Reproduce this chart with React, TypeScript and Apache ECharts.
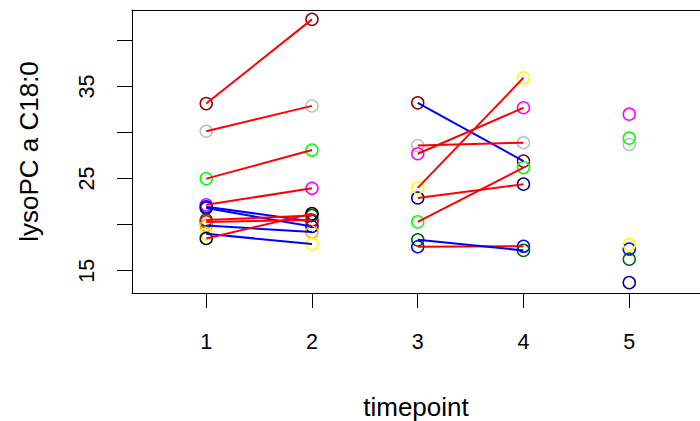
import React, { useEffect, useRef } from "react";
import * as echarts from "echarts";

// timepoints 1..5
const timepoints = [1, 2, 3, 4, 5];
const subjectColors = [
  "#8B0000", // darkred
  "#BEBEBE", // grey
  "#00FF00", // green
  "#FF00FF", // magenta
  "#0000FF", // blue
  "#00008B", // darkblue
  "#006400", // darkgreen
  "#FF0000", // red
  "#FFA500", // orange
  "#FFFF00", // yellow
  "#000000", // black
];
// values per subject at timepoints 1..5 (null = missing)
const darkredVals = [33.15, 42.3, 33.23, 26.9, null];
const greyVals = [30.15, 32.9, 28.6, 28.9, 28.7];
const greenVals = [25.0, 28.1, 20.3, 26.2, 29.4];
const magentaVals = [22.15, 23.95, 27.7, 32.7, 32.0];
const blueVals = [21.95, 20.35, 17.6, 17.65, 17.35];
const darkblueVals = [21.8, 19.8, 22.9, 24.4, 13.7];
const darkgreenVals = [20.5, 21.0, 18.35, 17.2, 16.25];
const redVals = [20.3, 20.5, null, null, null];
const orangeVals = [19.9, 19.2, null, null, null];
const yellowVals = [19.0, 17.9, 24.0, 35.95, 17.85];
const blackVals = [18.5, 21.2, null, null, null];

const subjects = [
  darkredVals, greyVals, greenVals, magentaVals, blueVals, darkblueVals,
  darkgreenVals, redVals, orangeVals, yellowVals, blackVals,
];
// pairs of timepoints connected by lines
const pairs = [[1, 2], [3, 4]];

const yTicks = [15, 20, 25, 30, 35, 40];
const yLabels = [15, 25, 35];

export default function App() {
  const ref = useRef<HTMLDivElement>(null);
  useEffect(() => {
    if (!ref.current) return;
    const chart = echarts.init(ref.current, null, { renderer: "svg" });
    const series: any[] = [];
    subjects.forEach((vals) => {
      pairs.forEach(([a, b]) => {
        const va = vals[a - 1];
        const vb = vals[b - 1];
        if (va != null && vb != null) {
          series.push({
            type: "line",
            data: [[a, va], [b, vb]],
            symbol: "none",
            silent: true,
            z: 3,
            lineStyle: { color: vb >= va ? "#FF0000" : "#0000FF", width: 2 },
          });
        }
      });
    });
    subjects.forEach((vals, si) => {
      const data = timepoints
        .map((t, i) => (vals[i] != null ? [t, vals[i]] : null))
        .filter((d) => d != null);
      series.push({
        type: "scatter",
        data,
        symbol: "circle",
        symbolSize: 12,
        z: 2,
        itemStyle: {
          color: "rgba(0,0,0,0)",
          borderColor: subjectColors[si],
          borderWidth: 1.5,
          opacity: 1,
        },
      });
    });
    const fontFamily = "'Liberation Sans', Arial, Helvetica, sans-serif";
    const xMin = 0.298;
    const xMax = 5.669;
    const yMin = 12.576;
    const yMax = 43.315;
    chart.setOption({
      animation: false,
      backgroundColor: "#ffffff",
      grid: {
        left: 132,
        top: 10,
        bottom: 128,
        right: 0,
        show: false,
        containLabel: false,
        outerBoundsMode: "none",
      },
      xAxis: [
        {
          type: "value",
          min: xMin,
          max: xMax,
          name: "timepoint",
          nameLocation: "middle",
          nameGap: 101,
          nameTextStyle: { fontSize: 26, color: "#000", fontFamily },
          splitLine: { show: false },
          axisLine: { show: true, onZero: false, lineStyle: { color: "#000", width: 1 } },
          axisTick: {
            show: true,
            length: 15,
            customValues: timepoints,
            lineStyle: { color: "#000", width: 1 },
          },
          axisLabel: {
            customValues: timepoints,
            fontSize: 21.5,
            color: "#000",
            margin: 38,
            fontFamily,
          },
        },
        {
          type: "value",
          position: "top",
          min: xMin,
          max: xMax,
          splitLine: { show: false },
          axisLine: { show: true, onZero: false, lineStyle: { color: "#000", width: 1 } },
          axisTick: { show: false },
          axisLabel: { show: false },
        },
      ],
      yAxis: {
        type: "value",
        min: yMin,
        max: yMax,
        name: "lysoPC a C18:0",
        nameLocation: "middle",
        nameRotate: 90,
        nameGap: 90,
        nameTextStyle: { fontSize: 26, color: "#000", fontFamily },
        splitLine: { show: false },
        axisLine: { show: true, onZero: false, lineStyle: { color: "#000", width: 1 } },
        axisTick: {
          show: true,
          length: 15,
          customValues: yTicks,
          lineStyle: { color: "#000", width: 1 },
        },
        axisLabel: {
          customValues: yLabels,
          rotate: 90,
          fontSize: 21.5,
          color: "#000",
          margin: 34,
          fontFamily,
        },
      },
      series,
    });
    return () => chart.dispose();
  }, []);
  return (
    <div
      ref={ref}
      style={{ width: 700, height: 421, position: "absolute", left: 0, top: 0 }}
    />
  );
}
